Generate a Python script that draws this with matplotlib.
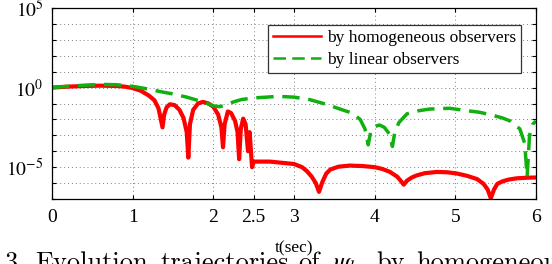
import numpy as np
import matplotlib
matplotlib.use('Agg')
import matplotlib.pyplot as plt
from matplotlib.ticker import FixedLocator, FixedFormatter, NullLocator

plt.rcParams['font.family'] = ['Liberation Serif', 'DejaVu Serif']
plt.rcParams['mathtext.fontset'] = 'stix'

# homogeneous observers: time (sec) and log10 of the value
red_t = [0.0, 0.2, 0.4, 0.6, 0.8, 0.9, 1.0, 1.1, 1.2, 1.27, 1.32, 1.37, 1.39, 1.42, 1.46,
         1.52, 1.58, 1.63, 1.67, 1.69, 1.71, 1.75, 1.81, 1.87, 1.94, 2.0, 2.06, 2.1, 2.12,
         2.14, 2.18, 2.22, 2.27, 2.3, 2.32, 2.34, 2.37, 2.4, 2.43, 2.45, 2.48, 2.5, 2.7,
         2.9, 3.0, 3.1, 3.16, 3.22, 3.27, 3.31, 3.35, 3.4, 3.45, 3.55, 3.69, 3.85, 4.0,
         4.1, 4.19, 4.28, 4.33, 4.36, 4.4, 4.46, 4.52, 4.62, 4.77, 4.9, 5.02, 5.15, 5.27,
         5.35, 5.4, 5.44, 5.48, 5.52, 5.58, 5.66, 5.76, 5.9, 6.0]
red_log = [0.0, 0.06, 0.1, 0.12, 0.1, 0.06, -0.03, -0.2, -0.5, -0.8, -1.3, -2.5, -1.7, -1.25, -1.05,
           -1.1, -1.4, -1.9, -2.8, -4.4, -2.3, -1.4, -1.0, -0.9, -1.0, -1.2, -1.7, -2.5, -3.75,
           -2.3, -1.5, -1.6, -2.1, -2.8, -4.5, -2.6, -1.95, -2.3, -4.0, -2.8, -5.0, -4.65, -4.65,
           -4.75, -4.8, -5.0, -5.25, -5.6, -6.0, -6.55, -5.95, -5.4, -5.15, -4.97, -4.9, -4.93, -5.0,
           -5.12, -5.3, -5.6, -5.9, -6.1, -5.85, -5.65, -5.52, -5.38, -5.3, -5.32, -5.4, -5.55, -5.75,
           -6.05, -6.4, -6.95, -6.4, -6.05, -5.9, -5.78, -5.7, -5.66, -5.65]

# linear observers
green_t = [0.0, 0.3, 0.6, 0.8, 1.0, 1.2, 1.34, 1.5, 1.67, 1.87, 2.0, 2.08, 2.15, 2.25, 2.35,
           2.5, 2.66, 2.8, 3.0, 3.19, 3.4, 3.6, 3.72, 3.82, 3.88, 3.92, 3.95, 4.0, 4.06, 4.12,
           4.18, 4.22, 4.25, 4.3, 4.4, 4.55, 4.68, 4.93, 5.14, 5.3, 5.43, 5.58, 5.68, 5.8,
           5.86, 5.89, 5.92, 5.96, 6.0]
green_log = [0.0, 0.12, 0.2, 0.18, 0.08, -0.1, -0.25, -0.4, -0.6, -0.9, -1.15, -1.2, -1.1, -0.9, -0.75,
             -0.65, -0.6, -0.55, -0.6, -0.75, -1.05, -1.4, -1.6, -2.0, -2.6, -3.6, -2.8, -2.45, -2.35, -2.5,
             -2.9, -3.7, -2.8, -2.2, -1.65, -1.45, -1.35, -1.3, -1.45, -1.55, -1.7, -1.9, -2.1, -2.6,
             -3.5, -5.6, -3.0, -2.3, -2.1]

xticks = [0, 1, 2, 2.5, 3, 4, 5, 6]
xticklabels = ['0', '1', '2', '2.5', '3', '4', '5', '6']
ydecades = list(range(-7, 6))
ylabels = {5: '$10^{5}$', 0: '$10^{0}$', -5: '$10^{-5}$'}

fig = plt.figure(figsize=(5.52, 2.64), dpi=100)
ax = fig.add_axes([52 / 552, 1 - 199 / 264, (536 - 52) / 552, (199 - 8) / 264])

ax.plot(red_t, 10.0 ** np.array(red_log), color='#ff0000', lw=3.0,
        label='by homogeneous observers')
ax.plot(green_t, 10.0 ** np.array(green_log), color='#10b010', lw=2.5,
        dashes=(5, 2.5), label='by linear observers')

ax.set_yscale('log')
ax.set_xlim(0, 6)
ax.set_ylim(1e-7, 1e5)

ax.xaxis.set_major_locator(FixedLocator(xticks))
ax.xaxis.set_major_formatter(FixedFormatter(xticklabels))
ax.yaxis.set_major_locator(FixedLocator([10.0 ** d for d in ydecades]))
ax.yaxis.set_major_formatter(FixedFormatter([ylabels.get(d, '') for d in ydecades]))
ax.yaxis.set_minor_locator(NullLocator())

ax.tick_params(which='both', direction='in', top=True, right=True, length=3,
               labelsize=14, width=0.8)
ax.tick_params(axis='x', pad=7)
ax.tick_params(axis='y', pad=6)
ax.grid(True, linestyle=(0, (1, 3)), color='0.5', lw=0.7)
for s in ax.spines.values():
    s.set_linewidth(0.9)

ax.set_xlabel('t(sec)', fontsize=12.5)
ax.xaxis.set_label_coords(0.5, -0.215)

leg = ax.legend(loc='upper right', bbox_to_anchor=(521 / 552, 1 - 25 / 264),
                bbox_transform=fig.transFigure, fontsize=12.5, frameon=True,
                fancybox=False, edgecolor='0.2', framealpha=1, handlelength=2.8,
                handletextpad=0.3, borderpad=0.3, labelspacing=0.3, borderaxespad=0)
leg.get_frame().set_linewidth(0.9)
for h in leg.get_lines():
    h.set_linewidth(1.8)

# caption line cut off at the bottom of the picture
cap_words = ['3.', 'Evolution', 'trajectories', 'of', r'$\psi_k$', 'by', 'homogeneous']
cap_x = [5, 35, 160, 298, 333, 376, 416]
for w, x in zip(cap_words, cap_x):
    fig.text(x / 552, 1 - 270 / 264, w, fontsize=19, family=['cmr10', 'DejaVu Serif'],
             va='baseline', ha='left')

fig.savefig('out.png', dpi=100)
